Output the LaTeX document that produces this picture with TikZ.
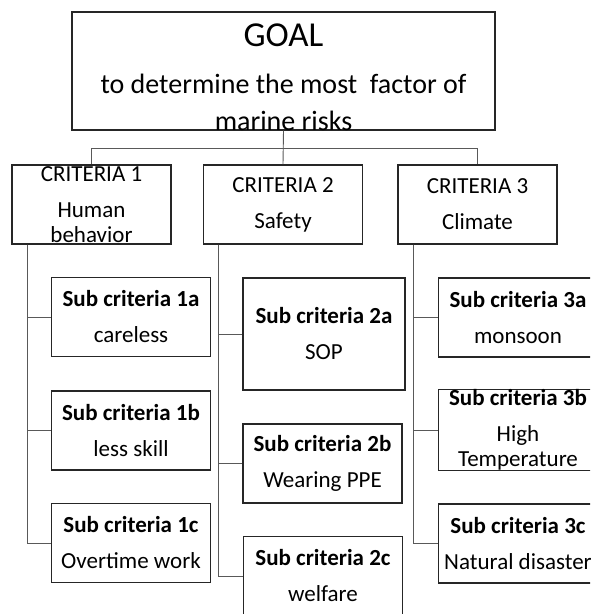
\documentclass[tikz,border=0pt]{standalone}
\usepackage{fontspec}
\setmainfont{Carlito}
\usepackage{tikz}

\begin{document}
\begin{tikzpicture}[x=1pt,y=-1pt,
    crit/.style={draw=black!85,line width=1.2pt,minimum width=159pt,minimum height=79pt,
      inner sep=0pt,align=center,font=\fontsize{23}{36}\selectfont},
    branch/.style={draw=black!65,line width=0.9pt}]

    \useasboundingbox (0,0) rectangle (590,614);
    \clip (0,0) rectangle (590,614);

    \node[crit,minimum width=423pt,minimum height=118pt] (goal) at (283.5,71) {};
    \node[align=center,inner sep=0pt,font=\fontsize{28}{37}\selectfont]
      (goaltext) at ([yshift=-6.5pt]goal.center) {{\fontsize{35}{37}\selectfont GOAL}\\[10pt]
      to determine the most\ \ factor of\\ marine risks};

    \node[crit] (c1) at (91.5,204.5)  {CRITERIA 1\\ Human\\[-11pt] behavior};
    \node[crit] (c2) at (283,204.5)   {CRITERIA 2\\ Safety};
    \node[crit] (c3) at (477.5,204.5) {CRITERIA 3\\ Climate};

    \node[crit] (s1a) at (131,317)   {\textbf{Sub criteria 1a}\\ careless};
    \node[crit] (s1b) at (131,430.5) {\textbf{Sub criteria 1b}\\ less skill};
    \node[crit] (s1c) at (131,543)   {\textbf{Sub criteria 1c}\\ Overtime work};

    \node[crit,minimum width=162pt,minimum height=112pt] (s2a) at (324,334) {\textbf{Sub criteria 2a}\\ SOP};
    \node[crit] (s2b) at (322.5,463.5) {\textbf{Sub criteria 2b}\\ Wearing PPE};
    \node[crit] (s2c) at (323,576)     {\textbf{Sub criteria 2c}\\ welfare};

    \node[crit] (s3a) at (518,317.5) {\textbf{Sub criteria 3a}\\ monsoon};
    \node[crit] (s3b) at (518,430)   {\textbf{Sub criteria 3b}\\ High\\[-11pt] Temperature};
    \node[crit] (s3c) at (518,543.5) {\textbf{Sub criteria 3c}\\ Natural disaster};

    % goal to criteria
    \coordinate (bus) at (0,148);
    \draw[branch] (goal.south) -- (c2.north);
    \draw[branch] (c1.north) -- (c1.north |- bus) -- (c3.north |- bus) -- (c3.north);

    % criteria to sub criteria
    \foreach \i in {1,2,3} {
      \coordinate (t\i) at ([xshift=16pt]c\i.south west);
      \foreach \j in {a,b,c}
        \draw[branch] (t\i) |- (s\i\j.west);
    }
  \end{tikzpicture}
\end{document}
